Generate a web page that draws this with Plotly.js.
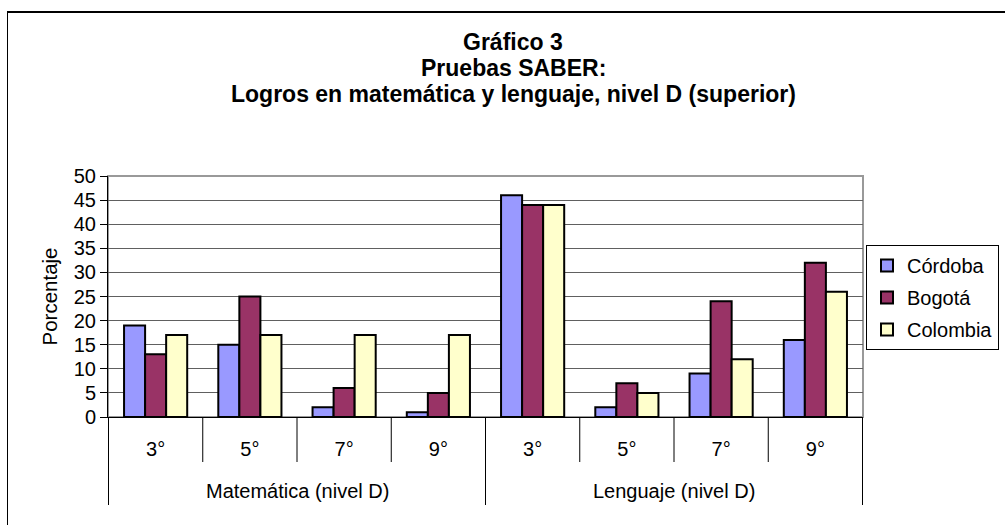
<!DOCTYPE html>
<html><head><meta charset="utf-8">
<script src="https://cdn.plot.ly/plotly-3.0.1.min.js"></script>
<style>
body{margin:0;padding:0;background:#fff;}
#wrap{position:relative;width:1005px;height:525px;overflow:hidden;}
#frame{position:absolute;left:7px;top:11px;width:1100px;height:600px;border-left:1px solid #000;border-top:2px solid #000;box-sizing:border-box;pointer-events:none;}
#chart{position:absolute;left:0;top:0;width:1005px;height:525px;}
</style></head>
<body>
<div id="wrap"><div id="chart"></div><div id="frame"></div></div>
<script>
const groups = ["Matemática (nivel D)","Matemática (nivel D)","Matemática (nivel D)","Matemática (nivel D)",
                "Lenguaje (nivel D)","Lenguaje (nivel D)","Lenguaje (nivel D)","Lenguaje (nivel D)"];
const grades = ["3°","5°","7°","9°","3°","5°","7°","9°"];
const cordoba  = [19,15,2,1,46,2,9,16];
const bogota   = [13,25,6,5,44,7,24,32];
const colombia = [17,17,17,17,44,5,12,26];
const seriesNames = ["Córdoba","Bogotá","Colombia"];
const seriesColors = ["#9999FF","#993366","#FFFFCC"];
const yTicks = [0,5,10,15,20,25,30,35,40,45,50];
const titleLines = ["Gráfico 3","Pruebas SABER:","Logros en matemática y lenguaje, nivel D (superior)"];

const font = "Arial, 'Liberation Sans', sans-serif";
const cats = groups.map((g,i)=>g+" | "+grades[i]);

const data = [cordoba, bogota, colombia].map((vals,i)=>({
  type:"bar", name:seriesNames[i], x:cats, y:vals,
  legendgroup:"g"+i,
  marker:{color:seriesColors[i], line:{color:"#000", width:2}}
}));

const W=1005,H=525,ML=108,MR=142,MT=176,MB=108;
const PH=H-MT-MB, PW=W-ML-MR;
const py = p => (H-MB-p)/PH;
const px = p => (p-ML)/PW;

const shapes = [{type:"rect", xref:"paper", yref:"paper", x0:0, x1:1, y0:0, y1:1,
                 line:{color:"#999", width:2}, layer:"below"}];
for(let i=0;i<=cats.length;i++){
  const isGroupEdge = (i===0 || i===cats.length || groups[i]!==groups[i-1]);
  shapes.push({type:"line", xref:"x", yref:"paper", x0:i-0.5, x1:i-0.5,
               y0:0, y1:py(isGroupEdge?505:462), line:{color:"#000", width:1}});
}
const annotations = [];
const uniq = [...new Set(groups)];
uniq.forEach(g=>{
  const idx = groups.map((v,i)=>v===g?i:-1).filter(i=>i>=0);
  const c = (idx[0]+idx[idx.length-1])/2;
  annotations.push({text:g, xref:"x", yref:"paper", x:c, y:py(491), yanchor:"middle",
                    showarrow:false, font:{size:20, family:font, color:"#000"}});
});
const titleY=[42,68,94];
titleLines.forEach((t,i)=>annotations.push({text:"<b>"+t+"</b>", xref:"paper", yref:"paper",
   x:px(513), y:py(titleY[i]), xanchor:"center", yanchor:"middle", showarrow:false,
   font:{size:23, family:font, color:"#000"}}));

const layout = {
  width:W, height:H,
  margin:{l:ML, r:MR, t:MT, b:MB, autoexpand:false},
  paper_bgcolor:"rgba(0,0,0,0)", plot_bgcolor:"#fff",
  font:{family:font, color:"#000", size:20},
  barmode:"group", bargap:0.33, bargroupgap:0,
  xaxis:{type:"category", tickvals:cats, ticktext:grades, showline:true, linecolor:"#000", linewidth:1,
         ticks:"", ticklabelstandoff:14, showgrid:false, tickfont:{size:20, family:font}},
  yaxis:{range:[0,50], tickvals:yTicks, ticks:"outside", ticklen:7, tickcolor:"#000",
         showline:true, linecolor:"#000", linewidth:1,
         showgrid:true, gridcolor:"#606060", gridwidth:1,
         tickfont:{size:20, family:font}, zeroline:false,
         title:{text:"Porcentaje", font:{size:20.5, family:font}, standoff:10}},
  legend:{x:px(866), xanchor:"left", y:py(245), yanchor:"top",
          bordercolor:"#000", borderwidth:1, bgcolor:"#fff",
          font:{size:20, family:font}, tracegroupgap:3},
  shapes:shapes, annotations:annotations
};
Plotly.newPlot("chart", data, layout, {displayModeBar:false, staticPlot:true});
</script>
</body></html>
